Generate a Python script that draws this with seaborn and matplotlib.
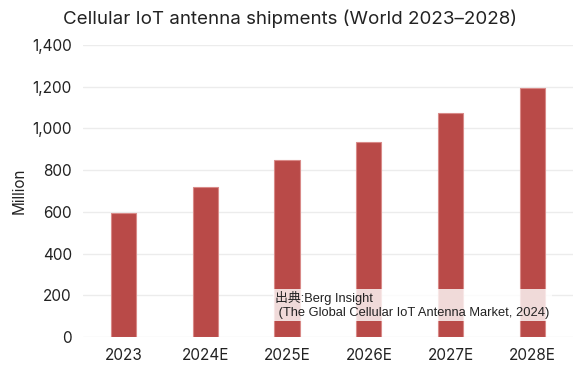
import matplotlib
matplotlib.use('Agg')
import matplotlib.pyplot as plt
import seaborn as sns
import pandas as pd

years = ['2023', '2024E', '2025E', '2026E', '2027E', '2028E']
shipments = [595, 720, 848, 935, 1073, 1193]
source_note = '出典:Berg Insight\n (The Global Cellular IoT Antenna Market, 2024)'

df = pd.DataFrame({'year': years, 'shipments': shipments})

sns.set_theme(style='white')
plt.rcParams['font.family'] = ['Inter', 'DejaVu Sans']

fig, ax = plt.subplots(figsize=(5.8, 3.8), dpi=100)
fig.subplots_adjust(left=0.143, right=0.988, top=0.882, bottom=0.113)

sns.barplot(data=df, x='year', y='shipments', color='#b94a48', width=0.31,
            edgecolor='#d98a88', linewidth=0.8, saturation=1, ax=ax, zorder=2)

ax.set_ylim(0, 1400)
ax.set_yticks(range(0, 1401, 200))
ax.set_yticklabels([f'{v:,}' for v in range(0, 1401, 200)])
ax.yaxis.grid(True, color='#ececec', linewidth=1, zorder=0)
ax.set_axisbelow(True)
sns.despine(ax=ax, left=True, bottom=True)
ax.tick_params(axis='both', length=0, labelsize=11, colors='#222222', pad=8)
ax.set_xlabel('')
ax.set_ylabel('Million', fontsize=11, color='#222222', labelpad=4)

fig.suptitle('Cellular IoT antenna shipments (World 2023–2028)', fontsize=13.5,
             x=0.5, y=0.975, color='#222222')

ax.text(0.392, 0.11, source_note, transform=ax.transAxes, fontsize=9.3,
        family=['Liberation Sans', 'Noto Sans CJK JP'], color='#222222',
        va='center', ha='left', linespacing=1.15,
        bbox=dict(facecolor='white', alpha=0.8, edgecolor='none', pad=1.5), zorder=5)

fig.savefig('out.png', dpi=100)
